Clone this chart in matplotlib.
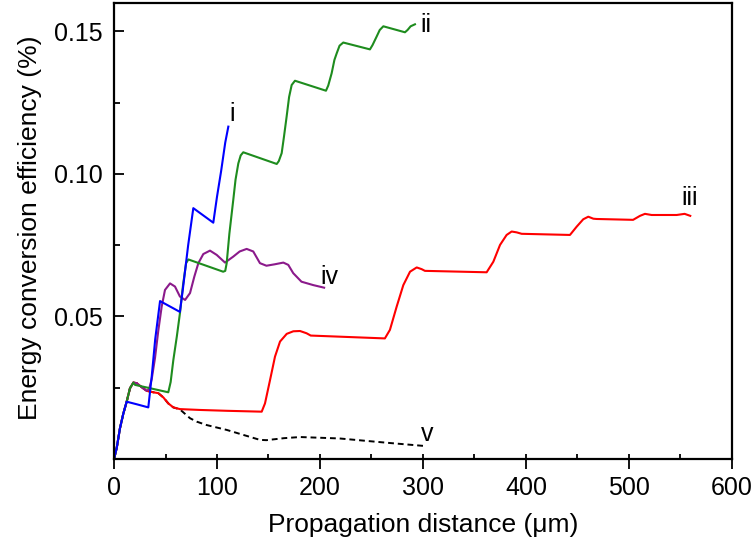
import matplotlib
matplotlib.use("Agg")
import matplotlib.pyplot as plt
from matplotlib.ticker import MultipleLocator

plt.rcParams["font.family"] = ["Liberation Sans", "DejaVu Sans"]

# i (blue)
i_x = [0, 2.6, 5.8, 9.1, 12.3, 22, 33.3, 36.6, 40, 44.7, 64, 67, 72, 77, 96.4, 100, 104, 108, 111]
i_y = [0, 0.0038, 0.0108, 0.016, 0.0201, 0.0192, 0.0181, 0.0289, 0.042, 0.0554, 0.0516, 0.060, 0.075,
       0.088, 0.0829, 0.092, 0.101, 0.111, 0.1166]

# ii (green)
ii_x = [0, 2.6, 5.8, 9.1, 12.3, 15.5, 18.8, 20.4, 52.7, 55, 57.6, 61, 64, 67, 70, 72.2, 106, 108, 109.4,
        112, 115.8, 118, 120.7, 123, 125.5, 158, 160, 162.8, 165, 167.6, 170, 172.5, 175.7, 205.8, 208,
        211.3, 214, 216.2, 219, 222.6, 248.5, 251, 255, 258, 261.5, 282.5, 285, 288, 292.2]
ii_y = [0, 0.0038, 0.0108, 0.016, 0.0201, 0.0248, 0.0268, 0.026, 0.0234, 0.027, 0.0347, 0.043, 0.0511,
        0.061, 0.0687, 0.070, 0.0657, 0.066, 0.0687, 0.079, 0.0909, 0.098, 0.1037, 0.1065, 0.1076, 0.1035,
        0.1045, 0.1073, 0.113, 0.1201, 0.127, 0.1312, 0.1327, 0.1292, 0.131, 0.1353, 0.140, 0.1423, 0.145,
        0.1461, 0.1437, 0.1452, 0.1482, 0.1505, 0.1518, 0.1497, 0.1505, 0.1518, 0.1525]

# iii (red)
iii_x = [0, 2.6, 5.8, 9.1, 12.3, 15.5, 18.8, 22, 26.9, 31.7, 38.2, 43, 47.9, 52.7, 57.6, 64, 83.5, 110,
         143.4, 146.6, 151.5, 156.3, 161.2, 167.7, 174.1, 180.6, 187, 191, 263, 267.9, 274.4, 280.9, 287.4,
         293.9, 298.7, 301.9, 361.8, 368.3, 374.8, 381.2, 386.1, 391, 395.8, 442.7, 449.2, 455.6, 460.5,
         465.4, 468.6, 504, 510.7, 515.5, 522, 546.3, 554, 559.5]
iii_y = [0, 0.0038, 0.0108, 0.016, 0.0201, 0.0248, 0.0268, 0.0266, 0.0252, 0.0239, 0.0234, 0.0231, 0.0216,
         0.0195, 0.0181, 0.0175, 0.0172, 0.0169, 0.0166, 0.0195, 0.0277, 0.0359, 0.0412, 0.0439, 0.0448,
         0.0449, 0.0441, 0.0433, 0.0423, 0.0453, 0.0534, 0.061, 0.0657, 0.0672, 0.0666, 0.066, 0.0655,
         0.0692, 0.0751, 0.0786, 0.0798, 0.0795, 0.079, 0.0786, 0.0815, 0.0841, 0.085, 0.0843, 0.0842,
         0.0839, 0.0853, 0.086, 0.0856, 0.0856, 0.086, 0.0853]

# iv (purple)
iv_x = [0, 2.6, 5.8, 9.1, 12.3, 15.5, 18.8, 22, 26.9, 31.7, 34, 36.6, 39.8, 43, 46.3, 49.5, 54.4, 59.2, 64,
        69, 73.8, 78, 81.9, 86.7, 93.2, 99.7, 107.8, 115.8, 122, 128.8, 135.2, 141.7, 148, 156, 164.4,
        169.2, 174, 182, 193.5, 204]
iv_y = [0, 0.0038, 0.0108, 0.016, 0.0201, 0.0248, 0.0268, 0.0266, 0.0252, 0.0239, 0.0245, 0.028, 0.0354,
        0.045, 0.0535, 0.0593, 0.0616, 0.0605, 0.057, 0.0558, 0.0582, 0.064, 0.0687, 0.0719, 0.0731,
        0.0716, 0.0689, 0.071, 0.0728, 0.0737, 0.0728, 0.0687, 0.0678, 0.0683, 0.0689, 0.0681, 0.0652,
        0.0622, 0.061, 0.0601]

# v (black dashed)
v_x = [0, 2.6, 5.8, 9.1, 12.3, 15.5, 18.8, 22, 26.9, 31.7, 38.2, 43, 47.9, 52.7, 57.6, 64, 73.8, 80.3, 90,
       109.4, 128.8, 141.7, 148, 165, 180.6, 219, 268, 300.3]
v_y = [0, 0.0038, 0.0108, 0.016, 0.0201, 0.0248, 0.0268, 0.0266, 0.0252, 0.0239, 0.0234, 0.0231, 0.0216,
       0.0195, 0.0181, 0.0174, 0.0143, 0.0131, 0.0119, 0.0102, 0.0081, 0.0067, 0.0066, 0.0073, 0.0077,
       0.0072, 0.0056, 0.0046]

labels = ["i", "ii", "iii", "iv", "v"]
label_x = [114.6, 303, 558.5, 208.7, 304.5]
label_y = [0.121, 0.1523, 0.0916, 0.0637, 0.0088]

fig = plt.figure(figsize=(7.55, 5.41), dpi=100)
ax = fig.add_axes([0.151, 0.1516, 0.8185, 0.843])

ax.plot(v_x, v_y, color="black", lw=1.4, ls=(0, (3, 2)))
ax.plot(iii_x, iii_y, color="#ff0000", lw=1.5)
ax.plot(iv_x, iv_y, color="#8b1a8b", lw=1.5)
ax.plot(ii_x, ii_y, color="#1e8c1e", lw=1.5)
ax.plot(i_x, i_y, color="#0000ff", lw=1.5)

for lab, lx, ly in zip(labels, label_x, label_y):
    ax.text(lx, ly, lab, fontsize=18, ha="center", va="center")

ax.set_xlim(0, 600)
ax.set_ylim(0, 0.16)
ax.xaxis.set_major_locator(MultipleLocator(100))
ax.xaxis.set_minor_locator(MultipleLocator(50))
ax.set_yticks([0.05, 0.10, 0.15])
ax.set_yticklabels(["0.05", "0.10", "0.15"])
ax.yaxis.set_minor_locator(MultipleLocator(0.025))

ax.tick_params(axis="both", which="both", labelsize=18, width=1.3)
ax.tick_params(axis="x", which="major", direction="out", length=7.2, pad=5)
ax.tick_params(axis="x", which="minor", direction="in", length=3.6)
ax.tick_params(axis="y", which="major", direction="in", length=7.2, pad=8)
ax.tick_params(axis="y", which="minor", direction="in", length=4.5)
for s in ax.spines.values():
    s.set_linewidth(1.6)

# inward part of the bottom major ticks
sec = ax.secondary_xaxis("bottom")
sec.xaxis.set_major_locator(MultipleLocator(100))
sec.tick_params(axis="x", which="major", direction="in", length=3.6, width=1.3, labelbottom=False)
sec.spines["bottom"].set_visible(False)

ax.set_xlabel("Propagation distance (\u03bcm)", fontsize=19)
ax.set_ylabel("Energy conversion efficiency (%)", fontsize=19)
ax.xaxis.set_label_coords(0.5, -0.118)
ax.yaxis.set_label_coords(-0.1165, 0.508)

fig.savefig("out.png", dpi=100)
